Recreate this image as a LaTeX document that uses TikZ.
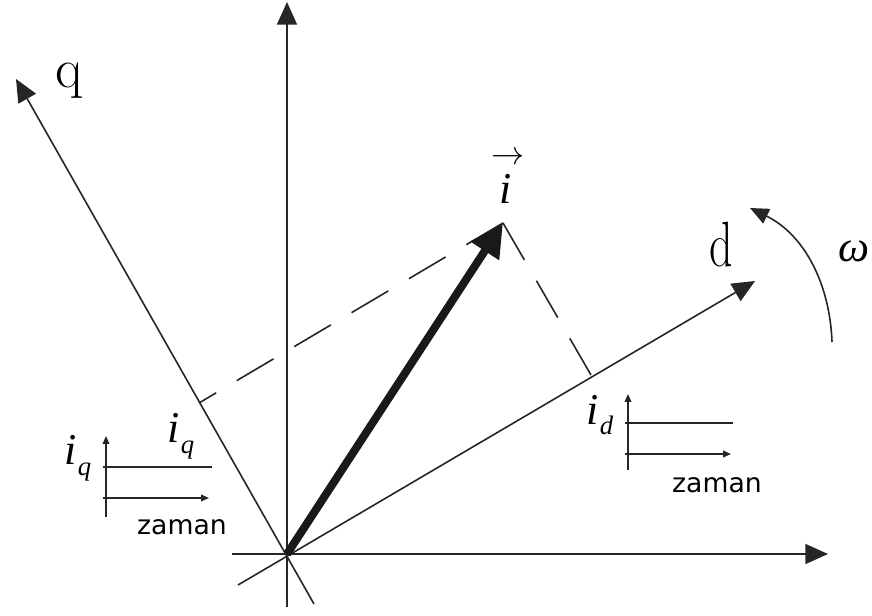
\documentclass[tikz,border=0pt]{standalone}
\usepackage{fontspec}
\newfontfamily\zfont{DejaVu Sans}
\newfontfamily\mfont{Liberation Serif}
\newcommand\ilab[1]{{\mfont\itshape\fontsize{33}{36}\selectfont i\kern0.5pt\raisebox{-8pt}{\fontsize{20}{22}\selectfont #1}}}
\usetikzlibrary{arrows.meta}
\begin{document}
\begin{tikzpicture}[x=0.75pt,y=-0.75pt,
  ln/.style={draw=black!85, line width=1.2pt},
  axis/.style={ln, -{Triangle[length=17pt,width=15pt]}},
  vecarrow/.style={draw=black!90, line width=6pt, -{Triangle[length=25pt,width=24pt]}},
  proj/.style={ln, dash pattern=on 32pt off 18pt},
  rot/.style={ln, -{Triangle[length=14pt,width=12pt]}},
  tarrow/.style={ln, -{Triangle[length=6pt,width=5pt]}},
  lbl/.style={inner sep=0pt},
  zlbl/.style={inner sep=0pt, font=\zfont\fontsize{20}{24}\selectfont}]
\useasboundingbox (0,0) rectangle (872,616);

% main points
\coordinate (O) at (287,554);
\coordinate (vb) at (287,607);
\coordinate (vt) at (287,2);
\coordinate (hl) at (232,554);
\coordinate (hr) at (828,554);
\coordinate (qb) at (314,604);
\coordinate (qt) at (16,79);
\coordinate (db) at (238,585);
\coordinate (dt) at (755,281);
\coordinate (I) at (503,223);
\coordinate (Pd) at (591,375);
\coordinate (Pq) at (199,403);

% axes
\draw[axis] (vb) -- (vt);
\draw[axis] (hl) -- (hr);
\draw[axis] (qb) -- (qt);
\draw[axis] (db) -- (dt);

% projections
\draw[proj] (I) -- (Pq);
\draw[proj] (I) -- (Pd);

% current vector
\draw[vecarrow] (O) -- (I);

% rotation
\coordinate (w0) at (832,342);
\coordinate (w1) at (750,208);
\draw[rot] (w0) .. controls (830,285) and (805,235) .. (w1);

% labels
\node[lbl] (lq) at (69,81) {\fontsize{42}{44}\selectfont q};
\node[lbl] (ld) at (721,245) {\scalebox{0.72}[1]{\fontsize{48}{50}\selectfont d}};
\node[lbl] (lw) at (854,251) {\mfont\itshape\fontsize{33}{36}\selectfont ω};
\node[lbl] (liarr) at (508,158) {\fontsize{34}{36}\selectfont$\scriptstyle\rightarrow$};
\node[lbl] (li) at (506,189) {\mfont\itshape\fontsize{33}{36}\selectfont i};
\node[lbl] (liq) at (181,436) {\ilab{q}};

% i_q time plot
\coordinate (a1b) at (106,517);
\coordinate (a1t) at (106,436);
\coordinate (a1l) at (103,467);
\coordinate (a1r) at (212,467);
\coordinate (b1l) at (103,498);
\coordinate (b1r) at (209,498);
\draw[tarrow] (a1b) -- (a1t);
\draw[ln] (a1l) -- (a1r);
\draw[tarrow] (b1l) -- (b1r);
\node[lbl] (liq2) at (78,458) {\ilab{q}};
\node[zlbl] (z1) at (182,527) {zaman};

% i_d time plot
\coordinate (a2b) at (628,470);
\coordinate (a2t) at (628,394);
\coordinate (a2l) at (625,423);
\coordinate (a2r) at (733,423);
\coordinate (b2l) at (625,454);
\coordinate (b2r) at (731,454);
\draw[tarrow] (a2b) -- (a2t);
\draw[ln] (a2l) -- (a2r);
\draw[tarrow] (b2l) -- (b2r);
\node[lbl] (lid) at (600,415) {\ilab{d}};
\node[zlbl] (z2) at (717,485) {zaman};
\end{tikzpicture}
\end{document}
